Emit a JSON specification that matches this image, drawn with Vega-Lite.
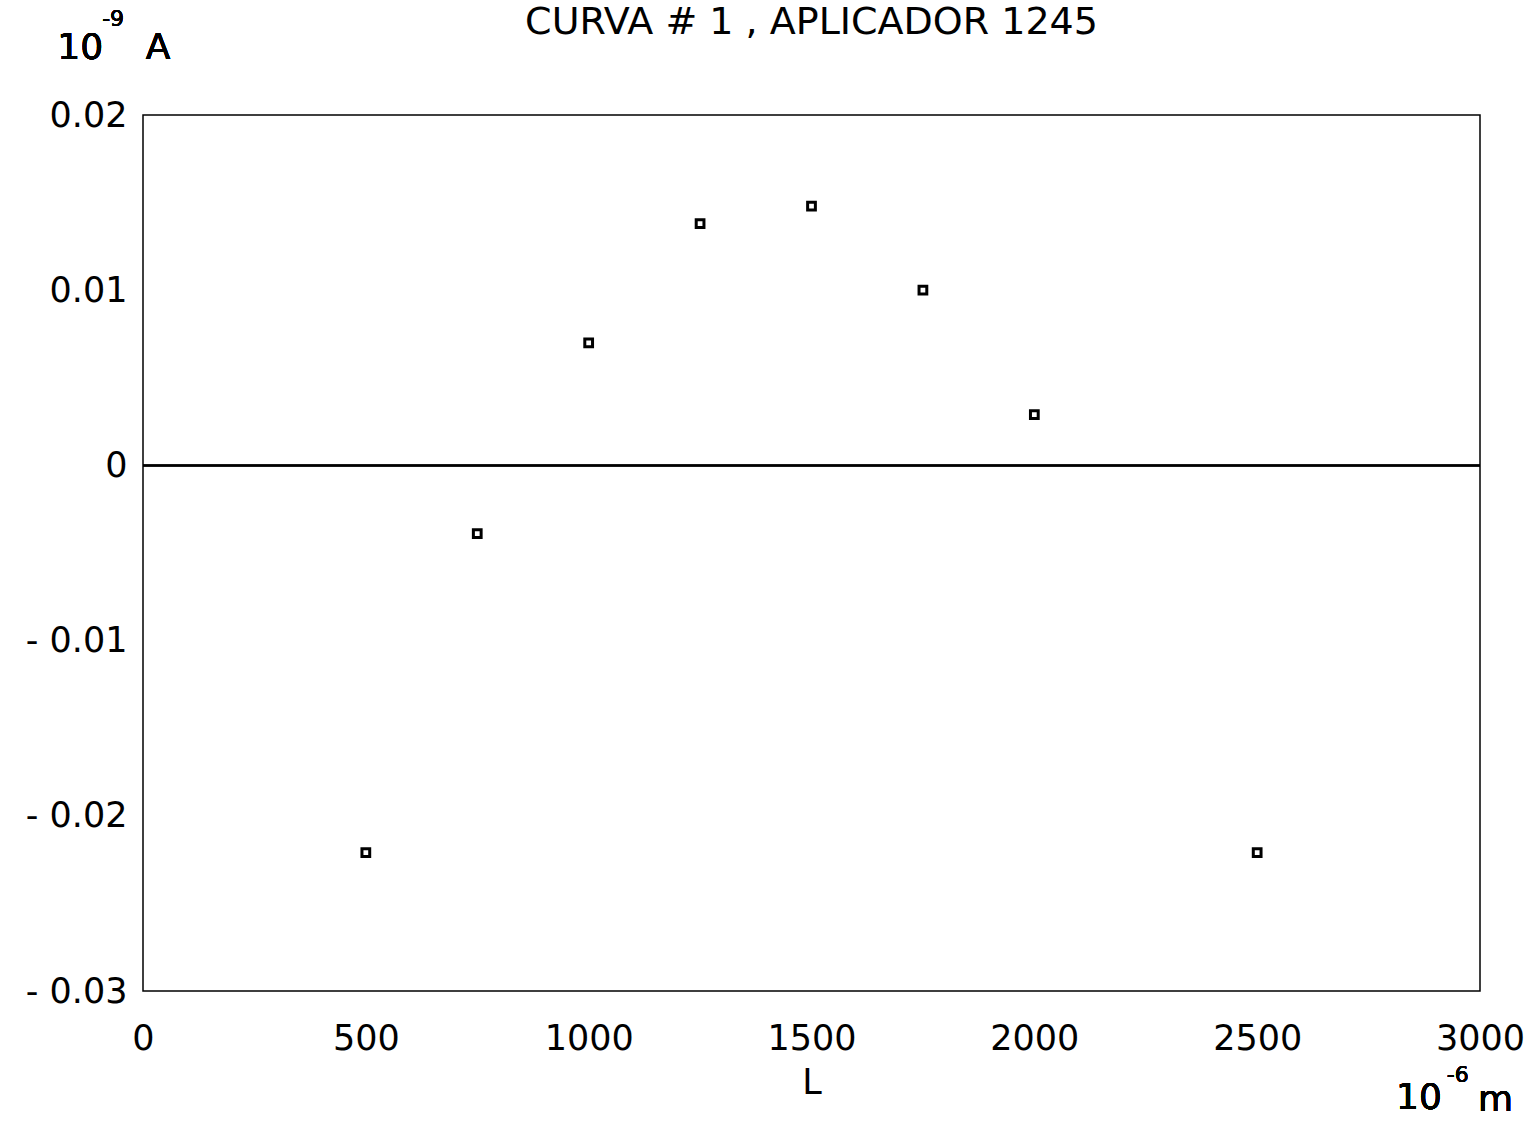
{
  "$schema": "https://vega.github.io/schema/vega-lite/v6.json",
  "width": 1337,
  "height": 876,
  "autosize": {"type": "none"},
  "padding": {"left": 143, "top": 115, "right": 60, "bottom": 136},
  "background": "white",
  "title": {"text": "CURVA # 1 , APLICADOR 1245", "font": "DejaVu Sans", "fontSize": 38, "fontWeight": "normal", "color": "black", "anchor": "middle", "offset": -34},
  "config": {
    "view": {"stroke": "black", "strokeWidth": 1.5},
    "axis": {"labelFont": "DejaVu Sans", "labelFontSize": 35, "labelColor": "black", "titleFont": "DejaVu Sans", "titleFontSize": 35, "titleFontWeight": "normal", "titleColor": "black", "grid": false, "ticks": false, "domain": false, "labelFlush": false, "labelOverlap": false}
  },
  "data": {"values": [
    {"L": 500, "I": -0.0221},
    {"L": 750, "I": -0.0039},
    {"L": 1000, "I": 0.0070},
    {"L": 1250, "I": 0.0138},
    {"L": 1500, "I": 0.0148},
    {"L": 1750, "I": 0.0100},
    {"L": 2000, "I": 0.0029},
    {"L": 2500, "I": -0.0221}
  ]},
  "layer": [
    {
      "mark": {"type": "rule", "color": "black", "strokeWidth": 1.5},
      "encoding": {"y": {"datum": 0, "type": "quantitative"}}
    },
    {
      "mark": {"type": "point", "shape": "square", "filled": false, "stroke": "black", "strokeWidth": 3, "size": 60, "opacity": 1},
      "encoding": {
        "x": {"field": "L", "type": "quantitative", "scale": {"domain": [0, 3000], "nice": false}, "axis": {"values": [0, 500, 1000, 1500, 2000, 2500, 3000], "format": "d", "labelPadding": 30, "title": "L", "titlePadding": 9}},
        "y": {"field": "I", "type": "quantitative", "scale": {"domain": [-0.03, 0.02], "nice": false, "zero": false}, "axis": {"values": [-0.03, -0.02, -0.01, 0, 0.01, 0.02], "labelPadding": 16, "title": null, "labelExpr": "datum.value == 0 ? '0' : (datum.value < 0 ? '-  ' + format(-datum.value, '.2f') : format(datum.value, '.2f'))"}}
      }
    },
    {
      "mark": {"type": "text", "font": "DejaVu Sans", "fontSize": 36, "color": "black", "baseline": "middle", "align": "center", "clip": false},
      "encoding": {"x": {"datum": -141, "type": "quantitative"}, "y": {"datum": 0.0238, "type": "quantitative"}, "text": {"value": "10"}}
    },
    {
      "mark": {"type": "text", "font": "DejaVu Sans", "fontSize": 22, "color": "black", "baseline": "middle", "align": "center", "clip": false},
      "encoding": {"x": {"datum": -67, "type": "quantitative"}, "y": {"datum": 0.0255, "type": "quantitative"}, "text": {"value": "-9"}}
    },
    {
      "mark": {"type": "text", "font": "DejaVu Sans", "fontSize": 36, "color": "black", "baseline": "middle", "align": "center", "clip": false},
      "encoding": {"x": {"datum": 34, "type": "quantitative"}, "y": {"datum": 0.0238, "type": "quantitative"}, "text": {"value": "A"}}
    },
    {
      "mark": {"type": "text", "font": "DejaVu Sans", "fontSize": 36, "color": "black", "baseline": "middle", "align": "center", "clip": false},
      "encoding": {"x": {"datum": 2863, "type": "quantitative"}, "y": {"datum": -0.0361, "type": "quantitative"}, "text": {"value": "10"}}
    },
    {
      "mark": {"type": "text", "font": "DejaVu Sans", "fontSize": 22, "color": "black", "baseline": "middle", "align": "center", "clip": false},
      "encoding": {"x": {"datum": 2950, "type": "quantitative"}, "y": {"datum": -0.0348, "type": "quantitative"}, "text": {"value": "-6"}}
    },
    {
      "mark": {"type": "text", "font": "DejaVu Sans", "fontSize": 36, "color": "black", "baseline": "middle", "align": "center", "clip": false},
      "encoding": {"x": {"datum": 3035, "type": "quantitative"}, "y": {"datum": -0.0362, "type": "quantitative"}, "text": {"value": "m"}}
    }
  ]
}
